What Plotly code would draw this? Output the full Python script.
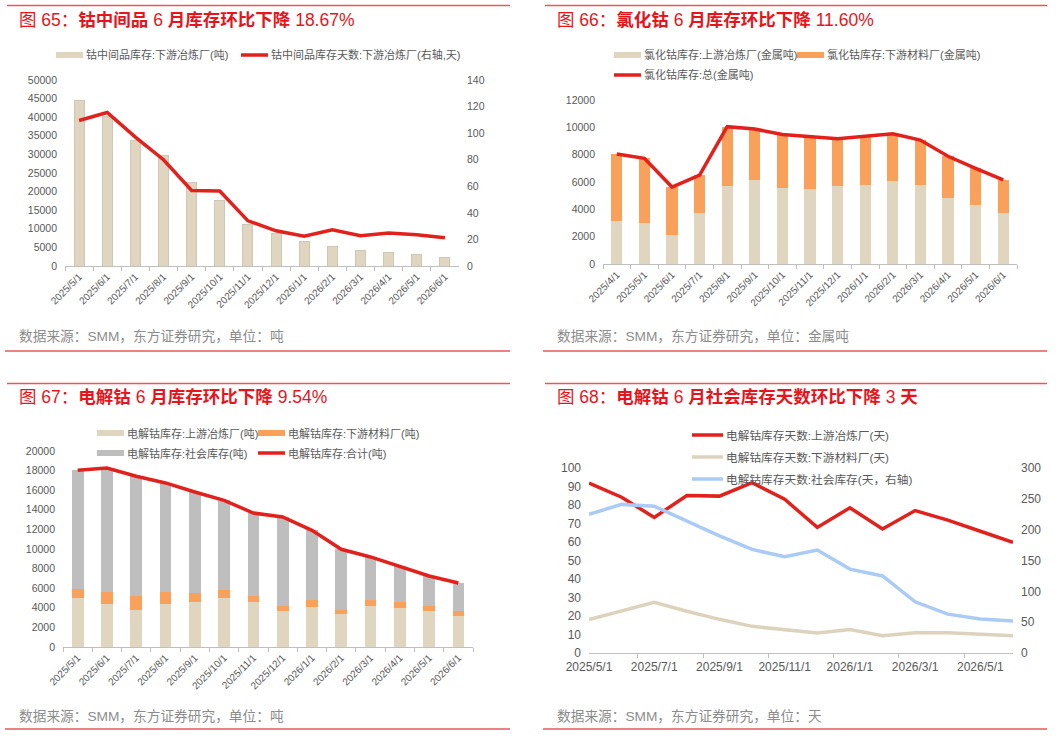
from __future__ import annotations

import plotly.graph_objects as go

W, H = 1061, 736
FONT = "Liberation Sans, Noto Sans CJK SC, sans-serif"
RED = "#E3211C"
TITLE_RED = "#E8141B"
RULE_RED = "#E8585A"
BEIGE = "#E0D6BF"
ORANGE = "#F9A15A"
GREY = "#BEBEBE"
BLUE = "#A9CBF5"
AXIS = "#BFBFBF"
TEXT = "#595959"
SRC = "#8C8C8C"
LW = 3.5

# --- 图65: 钴中间品 ---
months_65 = ["2025/5/1", "2025/6/1", "2025/7/1", "2025/8/1", "2025/9/1", "2025/10/1", "2025/11/1",
             "2025/12/1", "2026/1/1", "2026/2/1", "2026/3/1", "2026/4/1", "2026/5/1", "2026/6/1"]
inter_stock = [44400, 40100, 33850, 29650, 22350, 17500, 11200, 8850, 6500, 5200, 4200, 3700, 3000, 2400]
inter_days = [109.5, 115.5, 97, 80, 56.8, 56.5, 34, 26.5, 22.5, 27.2, 22.8, 24.8, 23.5, 21.2]

# --- 图66: 氯化钴 ---
months_66 = ["2025/4/1"] + months_65
cl_up = [3150, 3000, 2150, 3700, 5730, 6150, 5590, 5490, 5730, 5800, 6100, 5800, 4800, 4340, 3760]
cl_down = [4900, 4730, 3480, 2810, 4320, 3720, 3890, 3820, 3430, 3540, 3430, 3270, 3080, 2660, 2390]
cl_total = [8050, 7730, 5630, 6510, 10050, 9870, 9480, 9310, 9160, 9340, 9530, 9070, 7880, 7000, 6150]

# --- 图67: 电解钴库存 ---
months_67 = months_65
ec_up = [4970, 4420, 3740, 4420, 4560, 5030, 4560, 3670, 4050, 3330, 4150, 4010, 3640, 3200]
ec_down = [920, 1190, 1430, 1190, 920, 780, 650, 550, 710, 410, 610, 580, 510, 480]
ec_social = [12140, 12660, 12250, 11130, 10340, 9160, 8460, 9050, 7140, 6230, 4430, 3640, 3100, 2850]
ec_total = [18030, 18270, 17420, 16740, 15820, 14970, 13670, 13270, 11900, 9970, 9190, 8230, 7250, 6530]

# --- 图68: 电解钴库存天数 ---
months_68 = months_65
days_up = [91.8, 84.2, 73.3, 85.1, 84.8, 92.1, 83.1, 67.9, 78.5, 67.0, 77.0, 71.8, 65.8, 59.8]
days_down = [18.1, 22.6, 27.4, 22.6, 18.2, 14.4, 12.6, 10.8, 12.7, 9.3, 11.0, 11.0, 10.2, 9.3]
days_social = [225, 241, 238, 214, 190, 168, 156, 167, 136, 125, 83, 63, 55, 52]


def px_x(x: float) -> float:
    return x / W


def px_y(y: float) -> float:
    return 1 - y / H


def cat_xaxis(x0: float, x1: float, anchor: str, angle: int, size: float, dtick: int = 1, **kw) -> dict:
    d = dict(
        domain=[px_x(x0), px_x(x1)], anchor=anchor, type="category", automargin=False,
        showline=True, linecolor=AXIS, linewidth=1,
        ticks="outside", ticklen=4, tickcolor=AXIS, tickson="boundaries",
        tickangle=angle, dtick=dtick, showgrid=False, zeroline=False,
        tickfont=dict(family=FONT, size=size, color=TEXT),
    )
    d.update(kw)
    return d


def val_yaxis(y0: float, y1: float, anchor: str, top: float, step: float, size: float, **kw) -> dict:
    d = dict(
        domain=[px_y(y0), px_y(y1)], anchor=anchor, range=[0, top], dtick=step, automargin=False,
        tickformat="d", showline=False, showgrid=False, zeroline=False, ticks="",
        ticklabelstandoff=7, tickfont=dict(family=FONT, size=size, color=TEXT),
    )
    d.update(kw)
    return d


fig = go.Figure()

# 图65
fig.add_trace(go.Bar(x=months_65, y=inter_stock, marker=dict(color=BEIGE, line=dict(color="#CFC7B5", width=1)),
                     width=0.36, xaxis="x", yaxis="y"))
fig.add_trace(go.Scatter(x=months_65, y=inter_days, mode="lines", line=dict(color=RED, width=LW),
                         xaxis="x", yaxis="y2"))

# 图66
fig.add_trace(go.Bar(x=months_66, y=cl_up, marker=dict(color=BEIGE, line=dict(width=0)), width=0.41,
                     xaxis="x2", yaxis="y3"))
fig.add_trace(go.Bar(x=months_66, y=cl_down, marker=dict(color=ORANGE, line=dict(width=0)), width=0.41,
                     xaxis="x2", yaxis="y3"))
fig.add_trace(go.Scatter(x=months_66, y=cl_total, mode="lines", line=dict(color=RED, width=LW),
                         xaxis="x2", yaxis="y3"))

# 图67
for vals, col in ((ec_up, BEIGE), (ec_down, ORANGE), (ec_social, GREY)):
    fig.add_trace(go.Bar(x=months_67, y=vals, marker=dict(color=col, line=dict(width=0)), width=0.4,
                         xaxis="x3", yaxis="y4"))
fig.add_trace(go.Scatter(x=months_67, y=ec_total, mode="lines", line=dict(color=RED, width=LW),
                         xaxis="x3", yaxis="y4"))

# 图68
fig.add_trace(go.Scatter(x=months_68, y=days_up, mode="lines", line=dict(color=RED, width=LW),
                         xaxis="x4", yaxis="y5"))
fig.add_trace(go.Scatter(x=months_68, y=days_down, mode="lines", line=dict(color="#DDD3BC", width=LW),
                         xaxis="x4", yaxis="y5"))
fig.add_trace(go.Scatter(x=months_68, y=days_social, mode="lines", line=dict(color=BLUE, width=LW),
                         xaxis="x4", yaxis="y6"))

fig.update_layout(
    width=W, height=H, autosize=False, margin=dict(l=0, r=0, t=0, b=0, pad=0, autoexpand=False),
    paper_bgcolor="white", plot_bgcolor="rgba(0,0,0,0)",
    barmode="stack", bargap=0.6, showlegend=False,
    font=dict(family=FONT, color=TEXT),
    xaxis=cat_xaxis(65, 459, "y", -45, 10),
    yaxis=val_yaxis(266, 80, "x", 50000, 5000, 10.5),
    yaxis2=val_yaxis(266, 80, "x", 140, 20, 10.5, overlaying="y", side="right"),
    xaxis2=cat_xaxis(603, 1017, "y3", -45, 10),
    yaxis3=val_yaxis(264, 100, "x2", 12000, 2000, 10.5),
    xaxis3=cat_xaxis(63, 473, "y4", -45, 10),
    yaxis4=val_yaxis(647, 451, "x3", 20000, 2000, 10.5),
    xaxis4=cat_xaxis(589, 1013, "y5", 0, 12, dtick=2, ticklabelstandoff=3),
    yaxis5=val_yaxis(653, 468, "x4", 100, 10, 12),
    yaxis6=val_yaxis(653, 468, "x4", 300, 50, 12, overlaying="y5", side="right"),
)

shapes = []
annotations = []


def rule(x0: float, x1: float, y: float) -> None:
    shapes.append(dict(type="line", xref="paper", yref="paper", x0=px_x(x0), x1=px_x(x1),
                       y0=px_y(y), y1=px_y(y), line=dict(color=RULE_RED, width=1.5)))


def text(x: float, y: float, s: str, size: float, color: str) -> None:
    annotations.append(dict(xref="paper", yref="paper", x=px_x(x), y=px_y(y), text=s, showarrow=False,
                            xanchor="left", yanchor="middle", font=dict(family=FONT, size=size, color=color)))


def legend_item(kind: str, x: float, y: float, label: str, color: str, size: float, w: float = 27) -> None:
    if kind == "bar":
        shapes.append(dict(type="rect", xref="paper", yref="paper", x0=px_x(x), x1=px_x(x + w),
                           y0=px_y(y + 3), y1=px_y(y - 3), fillcolor=color, line=dict(width=0)))
    else:
        shapes.append(dict(type="line", xref="paper", yref="paper", x0=px_x(x), x1=px_x(x + w),
                           y0=px_y(y), y1=px_y(y), line=dict(color=color, width=3.5)))
    text(x + w + 1, y, label, size, TEXT)


# page furniture: rules, titles, sources
for (x0, x1), y in (((7, 510), 5.5), ((545, 1047), 5.5), ((7, 510), 383.5), ((545, 1047), 383.5),
                    ((5, 510), 351), ((543, 1047), 351), ((5, 510), 729), ((543, 1047), 729)):
    rule(x0, x1, y)

text(17, 20, "图 65：<b>钴中间品</b> 6 <b>月库存环比下降</b> 18.67%", 17.5, TITLE_RED)
text(555, 20, "图 66：<b>氯化钴</b> 6 <b>月库存环比下降</b> 11.60%", 17.5, TITLE_RED)
text(17, 397, "图 67：<b>电解钴</b> 6 <b>月库存环比下降</b> 9.54%", 17.5, TITLE_RED)
text(555, 397, "图 68：<b>电解钴</b> 6 <b>月社会库存天数环比下降</b> 3 <b>天</b>", 17.5, TITLE_RED)

text(17, 337, "数据来源：SMM，东方证券研究，单位：吨", 13.7, SRC)
text(555, 337, "数据来源：SMM，东方证券研究，单位：金属吨", 13.7, SRC)
text(17, 716, "数据来源：SMM，东方证券研究，单位：吨", 13.7, SRC)
text(555, 716, "数据来源：SMM，东方证券研究，单位：天", 13.7, SRC)

# legends
legend_item("bar", 56, 55, "钴中间品库存:下游冶炼厂(吨)", BEIGE, 11)
legend_item("line", 241, 55, "钴中间品库存天数:下游冶炼厂(右轴,天)", RED, 11)

legend_item("bar", 614, 55, "氯化钴库存:上游冶炼厂(金属吨)", BEIGE, 11)
legend_item("bar", 797, 55, "氯化钴库存:下游材料厂(金属吨)", ORANGE, 11)
legend_item("line", 614, 75, "氯化钴库存:总(金属吨)", RED, 11)

legend_item("bar", 97, 433, "电解钴库存:上游冶炼厂(吨)", BEIGE, 11)
legend_item("bar", 258, 433, "电解钴库存:下游材料厂(吨)", ORANGE, 11)
legend_item("bar", 97, 453, "电解钴库存:社会库存(吨)", GREY, 11)
legend_item("line", 258, 453, "电解钴库存:合计(吨)", RED, 11)

legend_item("line", 692, 435, "电解钴库存天数:上游冶炼厂(天)", RED, 11.7, w=31)
legend_item("line", 692, 457, "电解钴库存天数:下游材料厂(天)", "#DDD3BC", 11.7, w=31)
legend_item("line", 692, 479, "电解钴库存天数:社会库存(天，右轴)", BLUE, 11.7, w=31)

fig.update_layout(shapes=shapes, annotations=annotations)
# the page body keeps its default 8px margin otherwise
fig.write_html("out.html", config={"displayModeBar": False},
               post_script="document.body.style.margin='0';")
